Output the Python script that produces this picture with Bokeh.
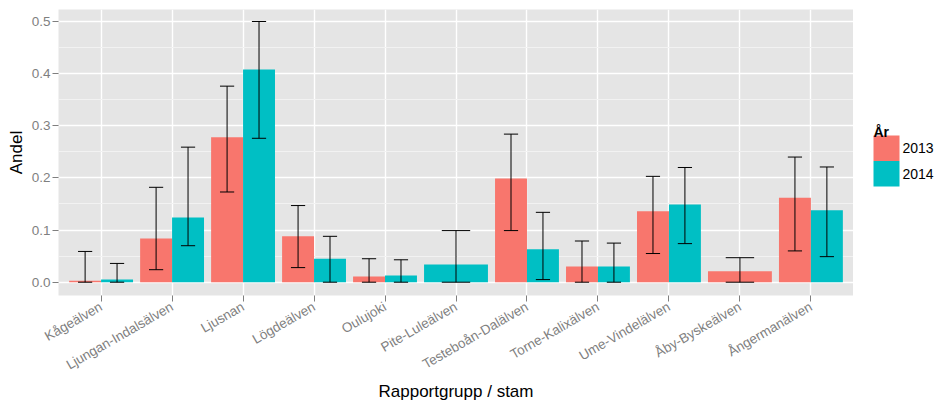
from math import pi
from bokeh.plotting import figure
from bokeh.layouts import row
from bokeh.core.properties import value
from bokeh.models import ColumnDataSource, FixedTicker, PrintfTickFormatter
from bokeh.embed import file_html
from bokeh.resources import INLINE

categories = ["Kågeälven", "Ljungan-Indalsälven", "Ljusnan", "Lögdeälven", "Oulujoki",
              "Pite-Luleälven", "Testeboån-Dalälven", "Torne-Kalixälven", "Ume-Vindelälven",
              "Åby-Byskeälven", "Ångermanälven"]
years = ["2013", "2014"]
andel_2013 = [0.003, 0.084, 0.278, 0.088, 0.011, None, 0.199, 0.030, 0.136, 0.021, 0.162]
lower_2013 = [0.0, 0.024, 0.173, 0.028, 0.0, None, 0.099, 0.0, 0.055, 0.0, 0.060]
upper_2013 = [0.059, 0.182, 0.376, 0.147, 0.045, None, 0.284, 0.079, 0.203, 0.047, 0.240]
andel_2014 = [0.005, 0.124, 0.408, 0.045, 0.013, 0.034, 0.063, 0.030, 0.149, None, 0.138]
lower_2014 = [0.0, 0.070, 0.276, 0.0, 0.0, 0.0, 0.005, 0.0, 0.074, None, 0.049]
upper_2014 = [0.036, 0.259, 0.500, 0.088, 0.043, 0.099, 0.134, 0.075, 0.220, None, 0.221]
colors = ["#F8766D", "#00BFC4"]
y_ticks = [0.0, 0.1, 0.2, 0.3, 0.4, 0.5]
y_minor = [0.05, 0.15, 0.25, 0.35, 0.45]
legend_title = "År"

series = {"2013": (andel_2013, lower_2013, upper_2013),
          "2014": (andel_2014, lower_2014, upper_2014)}

FONT = "Liberation Sans"
TOP, BOTTOM = 9, 110
p = figure(width=853, height=405, x_range=(0.4, 11.6), y_range=(-0.0255, 0.523),
           output_backend="svg", toolbar_location=None,
           min_border_left=58, min_border_top=TOP, min_border_right=0, min_border_bottom=BOTTOM)
p.background_fill_color = "#E5E5E5"
p.border_fill_color = "white"
p.outline_line_color = None

x_tick_pos = list(range(1, len(categories) + 1))
xt = FixedTicker(ticks=x_tick_pos)
yt = FixedTicker(ticks=y_ticks, minor_ticks=y_minor)
p.xaxis.ticker = xt
p.yaxis.ticker = yt
p.xgrid.ticker = xt
p.ygrid.ticker = yt
for g in (p.xgrid, p.ygrid):
    g.grid_line_color = "white"
    g.grid_line_width = 1.4
p.ygrid.minor_grid_line_color = "#F2F2F2"
p.ygrid.minor_grid_line_width = 1

p.xaxis.major_label_overrides = {i + 1: c for i, c in enumerate(categories)}
p.xaxis.major_label_orientation = pi / 6
p.yaxis.formatter = PrintfTickFormatter(format="%.1f")

for ax in (p.xaxis, p.yaxis):
    ax.axis_line_color = None
    ax.major_tick_line_color = "#7F7F7F"
    ax.major_tick_out = 6
    ax.major_tick_in = 0
    ax.minor_tick_line_color = None
    ax.major_label_text_color = "#7F7F7F"
    ax.major_label_text_font = FONT
    ax.major_label_text_font_size = "13.5px"
    ax.major_label_standoff = 2
    ax.axis_label_text_font = FONT
    ax.axis_label_text_font_size = "17px"
    ax.axis_label_text_font_style = "normal"
    ax.axis_label_text_color = "black"
p.xaxis.major_label_standoff = 4
p.xaxis.axis_label = "Rapportgrupp / stam"
p.yaxis.axis_label = "Andel"
p.xaxis.axis_label_standoff = 0
p.yaxis.axis_label_standoff = 3

# dodge positions computed from the data
for k, yr in enumerate(years):
    vals, lo, hi = series[yr]
    xs, tops, ws, los, his, caps = [], [], [], [], [], []
    for i in range(len(categories)):
        if vals[i] is None:
            continue
        present = [y for y in years if series[y][0][i] is not None]
        n = len(present)
        w = 0.9 / n
        j = present.index(yr)
        x = (i + 1) - 0.45 + w * (j + 0.5)
        xs.append(x); tops.append(vals[i]); ws.append(w)
        los.append(lo[i]); his.append(hi[i]); caps.append(w * 2 / 9)
    src = ColumnDataSource(dict(x=xs, top=tops, w=ws, lo=los, hi=his,
                                cl=[a - c for a, c in zip(xs, caps)],
                                cr=[a + c for a, c in zip(xs, caps)]))
    p.vbar(x="x", top="top", bottom=0, width="w", source=src,
           fill_color=colors[k], line_color=None)
    p.segment(x0="x", y0="lo", x1="x", y1="hi", source=src, line_color="black", line_width=1)
    p.segment(x0="cl", y0="hi", x1="cr", y1="hi", source=src, line_color="black", line_width=1)
    p.segment(x0="cl", y0="lo", x1="cr", y1="lo", source=src, line_color="black", line_width=1)

# legend panel to the right of the plot; its frame is aligned with the main
# plot's frame by the row layout, so use page-pixel coordinates (y downwards)
LW, LH = 83, 405
lg = figure(width=LW, height=LH, x_range=(0, LW), y_range=(LH - BOTTOM, TOP),
            output_backend="svg", toolbar_location=None,
            x_axis_location=None, y_axis_location=None,
            min_border_left=0, min_border_right=0, min_border_top=TOP, min_border_bottom=BOTTOM)
lg.grid.visible = False
lg.outline_line_color = None
lg.background_fill_color = "white"
lg.border_fill_color = "white"

key_left, key_top, key_w, key_h = 20, 135, 26, 25.5
key_y = [key_top + key_h * (k + 0.5) for k in range(len(years))]
lg.rect(x=[key_left + key_w / 2] * len(years), y=key_y, width=key_w, height=key_h,
        fill_color=colors, line_color=None)
lg.text(x=[key_left + key_w + 3] * len(years), y=key_y, text=years,
        text_font=value(FONT), text_font_size="14px", text_color="black",
        text_baseline="middle", text_align="left")
lg.text(x=[key_left], y=[key_top - 4], text=[legend_title],
        text_font=value(FONT), text_font_size="14px", text_font_style="bold",
        text_color="black", text_baseline="alphabetic", text_align="left")

layout = row(p, lg, spacing=0)
open("out.html", "w").write(file_html(layout, INLINE))
